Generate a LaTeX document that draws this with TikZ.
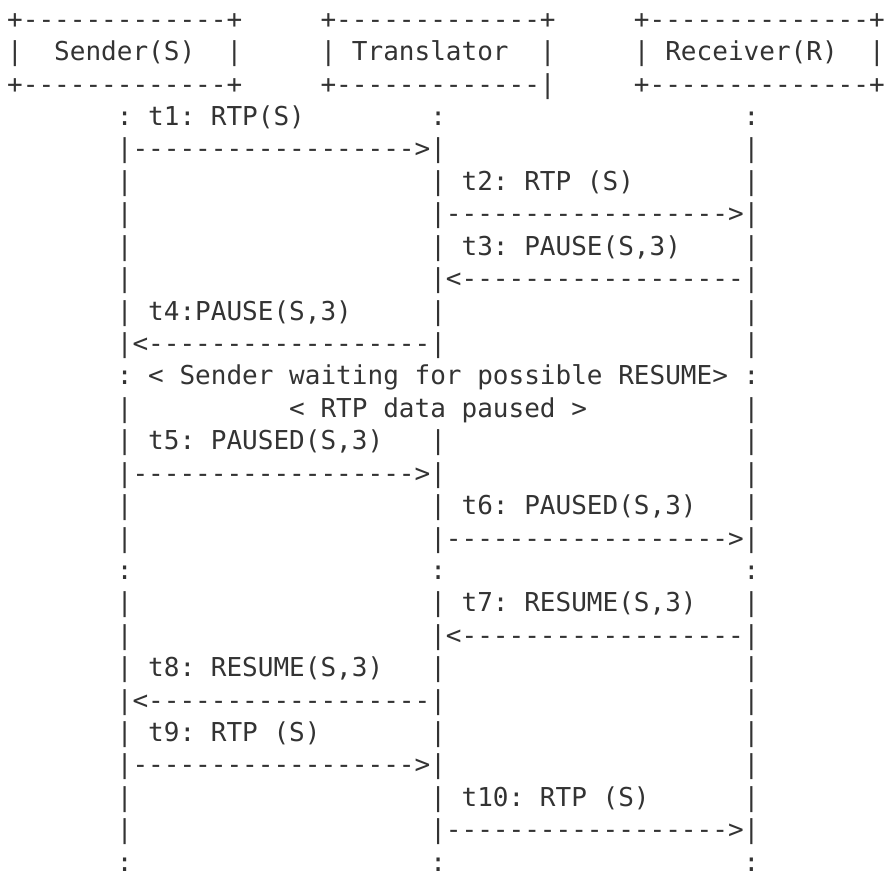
\documentclass[tikz,border=0pt]{standalone}
\usepackage{fontspec}
\setmonofont{DejaVu Sans Mono}
\usepackage{tikz}

\definecolor{ink}{HTML}{333333}
\tikzset{ascii/.style={font=\ttfamily\fontsize{26.03}{32}\selectfont, text=ink,
    anchor=base west, inner sep=0pt, outer sep=0pt}}

\begin{document}
\begin{tikzpicture}[x=15.67pt, y=-32.42pt]
\useasboundingbox (0pt,0pt) rectangle (885pt,-874pt);
\begin{scope}[shift={(7.17pt,4.12pt)}]
% boxes
\node[ascii] (sndTop) at (0,1) {+-------------+};
\node[ascii] (trnTop) at (20,1) {+-------------+};
\node[ascii] (rcvTop) at (40,1) {+--------------+};
\node[ascii] (sndL) at (0,2) {|};
\node[ascii] (snd) at (3,2) {Sender(S)};
\node[ascii] (sndR) at (14,2) {|};
\node[ascii] (trnL) at (20,2) {|};
\node[ascii] (trn) at (22,2) {Translator};
\node[ascii] (trnR) at (34,2) {|};
\node[ascii] (rcvL) at (40,2) {|};
\node[ascii] (rcv) at (42,2) {Receiver(R)};
\node[ascii] (rcvR) at (55,2) {|};
\node[ascii] (sndBot) at (0,3) {+-------------+};
\node[ascii] (trnBot) at (20,3) {+-------------|};
\node[ascii] (rcvBot) at (40,3) {+--------------+};

% lifelines
\foreach \r in {6,7,8,9,13,16,17,19,20,25,26}
  \node[ascii] (s\r) at (7,\r) {|};
\foreach \r in {10,14,21,23}
  \node[ascii] (t\r) at (27,\r) {|};
\foreach \r in {5,6,8,10,11,13,14,15,16,19,21,22,23,24,25}
  \node[ascii] (r\r) at (47,\r) {|};
\foreach \r in {18,27}
  \node[ascii] (s\r) at (7,\r) {:};
\foreach \r in {4,18,27} {
  \node[ascii] (t\r) at (27,\r) {:};
  \node[ascii] (r\r) at (47,\r) {:};
}

% messages
\node[ascii] (msgA) at (7,4) {: t1: RTP(S)};
\node[ascii] (arrA) at (7,5) {|------------------>|};
\node[ascii] (msgB) at (27,6) {| t2: RTP (S)};
\node[ascii] (arrB) at (27,7) {|------------------>|};
\node[ascii] (msgC) at (27,8) {| t3: PAUSE(S,3)};
\node[ascii] (arrC) at (27,9) {|<------------------|};
\node[ascii] (msgD) at (7,10) {| t4:PAUSE(S,3)};
\node[ascii] (arrD) at (7,11) {|<------------------|};
\node[ascii] (wait) at (7,12) {: < Sender waiting for possible RESUME> :};
\node[ascii] (paused) at (18,13) {< RTP data paused >};
\node[ascii] (msgE) at (7,14) {| t5: PAUSED(S,3)};
\node[ascii] (arrE) at (7,15) {|------------------>|};
\node[ascii] (msgF) at (27,16) {| t6: PAUSED(S,3)};
\node[ascii] (arrF) at (27,17) {|------------------>|};
\node[ascii] (msgG) at (27,19) {| t7: RESUME(S,3)};
\node[ascii] (arrG) at (27,20) {|<------------------|};
\node[ascii] (msgH) at (7,21) {| t8: RESUME(S,3)};
\node[ascii] (arrH) at (7,22) {|<------------------|};
\node[ascii] (msgI) at (7,23) {| t9: RTP (S)};
\node[ascii] (arrI) at (7,24) {|------------------>|};
\node[ascii] (msgJ) at (27,25) {| t10: RTP (S)};
\node[ascii] (arrJ) at (27,26) {|------------------>|};
\end{scope}
\end{tikzpicture}
\end{document}
